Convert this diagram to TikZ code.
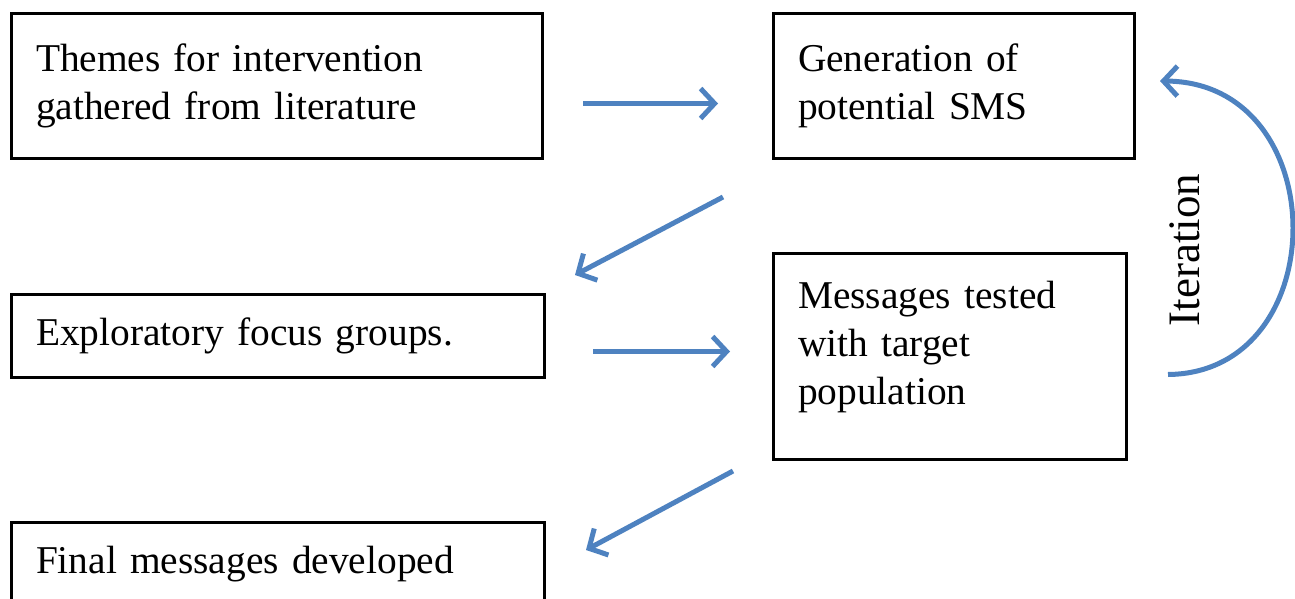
\documentclass[tikz,border=0pt]{standalone}
\usepackage{fontspec}
\setmainfont{Liberation Serif}[WordSpace=0.85]
\usetikzlibrary{arrows.meta,calc}
\definecolor{arrowblue}{RGB}{78,130,192}
\begin{document}
\begin{tikzpicture}[x=0.5pt,y=-0.5pt,
  stepbox/.style={draw=black,line width=1.5pt,rectangle,anchor=north west,
    align=left,inner xsep=12pt,inner ysep=0pt,
    font=\fontsize{19.7pt}{24pt}\selectfont},
  flow/.style={draw=arrowblue,line width=2.5pt,
    -{Straight Barb[length=7pt,width=15pt]}}]
\useasboundingbox (0,0) rectangle (1295,599);
\node[stepbox,minimum width=265.5pt,minimum height=72.5pt,text width=241pt] (b1) at (10,12)
  {Themes for intervention\\gathered from literature};
\node[stepbox,minimum width=180.5pt,minimum height=72.5pt,text width=156pt] (b2) at (772,12)
  {Generation of\\potential SMS};
\node[stepbox,minimum width=266.5pt,minimum height=41.5pt,text width=242pt] (b3) at (10,293)
  {Exploratory focus groups.};
\node[stepbox,minimum width=176.5pt,minimum height=103pt,text width=152pt] (b4) at (772,252)
  {Messages tested\\with target\\population\\[-10pt]\mbox{}};
\node[stepbox,minimum width=266.5pt,minimum height=41.5pt,text width=242pt] (b5) at (10,521)
  {Final messages developed};
\node[rotate=90,font=\fontsize{22.5pt}{24pt}\selectfont,inner sep=0pt] (it) at (1185,250) {Iteration};
\draw[flow] ($(b1.east)+(39,17.5)$) -- ($(b2.west)+(-54,17.5)$);
\draw[flow] ($(b1.south east)+(179,37)$) -- ($(b3.north east)+(29,-18)$);
\draw[flow] ($(b3.east)+(47,15.5)$) -- ($(b4.west)+(-42,-5)$);
\draw[flow] ($(b4.south west)+(-39,10)$) -- ($(b5.north east)+(40,29)$);
\draw[flow] ($(b4.east)+(40,18)$) .. controls (1335,373) and (1335,82) .. ($(b2.east)+(24,-5)$);
\end{tikzpicture}
\end{document}
